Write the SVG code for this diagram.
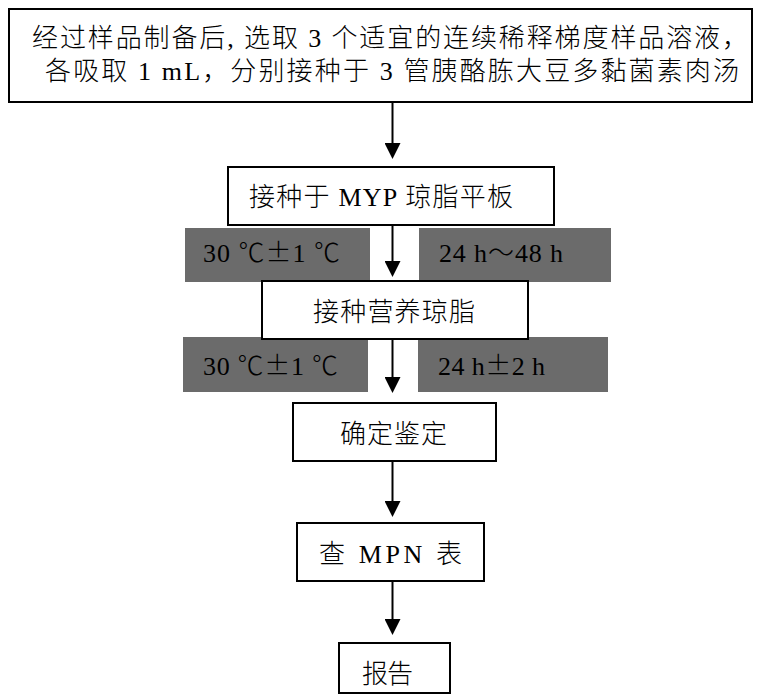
<svg xmlns="http://www.w3.org/2000/svg" width="758" height="695" viewBox="0 0 758 695">
<style>
.box{fill:#fff;stroke:#000;stroke-width:2}
.gray{fill:#6b6b6b}
.t{font-family:"Liberation Serif","Noto Sans CJK SC",serif;font-size:26px;font-weight:300;fill:#000}
.cjk{font-family:"Noto Sans CJK SC",sans-serif;font-weight:300}
.conn{stroke:#000;stroke-width:2;fill:none}
</style>
<defs>
<marker id="ah" markerUnits="userSpaceOnUse" markerWidth="16" markerHeight="16" refX="10" refY="8" orient="auto">
<path d="M0,0 L16,8 L0,16 z" fill="#000"/>
</marker>
</defs>
<rect width="758" height="695" fill="#fff"/>
<g id="n-start">
<rect class="box" x="9" y="9" width="743" height="93" stroke-width="2.5"/>
<text class="t" x="32" y="47" textLength="716" lengthAdjust="spacing">经过样品制备后, 选取 3 个适宜的连续稀释梯度样品溶液，</text>
<text class="t" x="45" y="80" textLength="694" lengthAdjust="spacing">各吸取 1 mL，分别接种于 3 管胰酪胨大豆多黏菌素肉汤</text>
</g>
<g id="n-myp">
<rect class="box" x="228" y="167" width="326" height="58"/>
<text class="t" x="249" y="206" textLength="264" lengthAdjust="spacing">接种于 MYP 琼脂平板</text>
</g>
<g id="n-cond1">
<rect class="gray" x="185" y="228" width="185" height="54"/>
<rect class="gray" x="419" y="228" width="192" height="54"/>
<text class="t" x="203" y="262" textLength="137" lengthAdjust="spacing">30 <tspan class="cjk">℃±</tspan>1 <tspan class="cjk">℃</tspan></text>
<text class="t" x="439" y="262" textLength="124" lengthAdjust="spacing">24 h～48 h</text>
</g>
<g id="n-cond2">
<rect class="gray" x="183" y="337" width="185" height="55"/>
<rect class="gray" x="418" y="337" width="190" height="55"/>
<text class="t" x="203" y="375" textLength="135" lengthAdjust="spacing">30 <tspan class="cjk">℃±</tspan>1 <tspan class="cjk">℃</tspan></text>
<text class="t" x="438" y="375" textLength="107" lengthAdjust="spacing">24 h<tspan class="cjk">±</tspan>2 h</text>
</g>
<g id="n-nutrient">
<rect class="box" x="262" y="281" width="266" height="58"/>
<text class="t" x="313" y="321" textLength="162" lengthAdjust="spacing">接种营养琼脂</text>
</g>
<g id="n-confirm">
<rect class="box" x="293" y="403" width="203" height="58"/>
<text class="t" x="340" y="443" textLength="107" lengthAdjust="spacing">确定鉴定</text>
</g>
<g id="n-mpn">
<rect class="box" x="297" y="523" width="187" height="58"/>
<text class="t" x="319" y="563" textLength="143" lengthAdjust="spacing">查 MPN 表</text>
</g>
<g id="n-report">
<rect class="box" x="339" y="643" width="111" height="50"/>
<text class="t" x="362" y="683" textLength="51" lengthAdjust="spacing">报告</text>
</g>
<g id="connectors">
<line class="conn" x1="392.5" y1="103" x2="392.5" y2="153" marker-end="url(#ah)"/>
<line class="conn" x1="392.5" y1="226" x2="392.5" y2="271" marker-end="url(#ah)"/>
<line class="conn" x1="392.5" y1="340" x2="392.5" y2="387" marker-end="url(#ah)"/>
<line class="conn" x1="392.5" y1="462" x2="392.5" y2="511" marker-end="url(#ah)"/>
<line class="conn" x1="392.5" y1="582" x2="392.5" y2="629" marker-end="url(#ah)"/>
</g>
</svg>
